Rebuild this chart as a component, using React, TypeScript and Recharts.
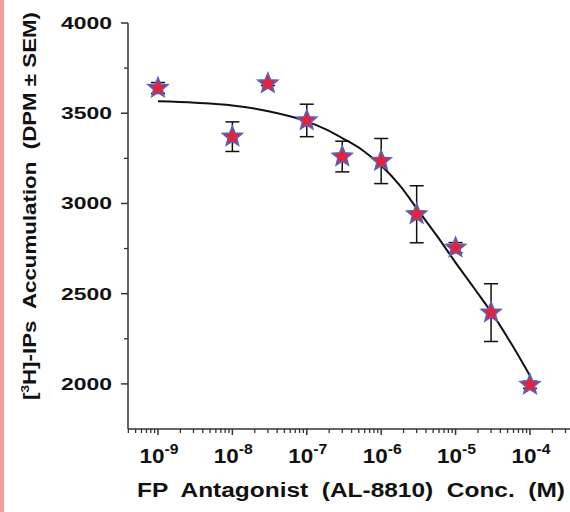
import React from "react";
import { ComposedChart, Scatter, Line, XAxis, YAxis, ErrorBar, Label } from "recharts";

// log10 of antagonist concentration (M)
const concLog = [-9, -8, -7.523, -7, -6.523, -6, -5.523, -5, -4.523, -4];
const accumulation = [3640, 3370, 3665, 3460, 3260, 3235, 2940, 2755, 2395, 1995];
const sem = [30, 82, 12, 90, 85, 125, 158, 28, 160, 20];

// fitted curve
const fitLog = [-9, -8.5, -8, -7.5, -7, -6.75, -6.5, -6.25, -6, -5.75, -5.5, -5.25, -5, -4.75, -4.5, -4.25, -4];
const fitValue = [3566, 3558, 3543, 3510, 3455, 3412, 3357, 3295, 3210, 3100, 2960, 2820, 2672, 2530, 2385, 2222, 2045];

const decades = [-10, -9, -8, -7, -6, -5, -4];
const decadeLabels = ["-10", "-9", "-8", "-7", "-6", "-5", "-4"];
const minorFactors = [2, 3, 4, 5, 6, 7, 8, 9];
const yTicks = [2000, 2250, 2500, 2750, 3000, 3250, 3500, 3750, 4000];

const X_DOMAIN: [number, number] = [-9.403, -3.462];
const FONT = "'Liberation Sans', Arial, sans-serif";

const points = concLog.map((x, i) => ({ x, y: accumulation[i], err: sem[i] }));
const fit = fitLog.map((x, i) => ({ x, y: fitValue[i] }));

const xTicks: number[] = [];
decades.forEach((d) => {
  xTicks.push(d);
  minorFactors.forEach((m) => xTicks.push(d + Math.log10(m)));
});
const xTicksInDomain = xTicks.filter((t) => t >= X_DOMAIN[0] && t <= X_DOMAIN[1]);

const StarDot = (props: any) => {
  const { cx, cy } = props;
  if (cx == null || cy == null) return null;
  const pts: string[] = [];
  for (let i = 0; i < 10; i++) {
    const r = i % 2 === 0 ? 10.5 : 4.6;
    const a = -Math.PI / 2 + (i * Math.PI) / 5;
    pts.push(`${cx + r * Math.cos(a)},${cy + r * Math.sin(a)}`);
  }
  return <polygon points={pts.join(" ")} fill="#e8203c" stroke="#5565b8" strokeWidth={1.5} />;
};

const XTick = (props: any) => {
  const { x, y, payload } = props;
  const v = payload.value;
  const major = Math.abs(v - Math.round(v)) < 1e-6;
  if (!major) {
    return <line x1={x} y1={y} x2={x} y2={y + 4} stroke="#333" strokeWidth={1.3} />;
  }
  const idx = decades.indexOf(Math.round(v));
  return (
    <g>
      <line x1={x} y1={y} x2={x} y2={y + 6} stroke="#333" strokeWidth={1.5} />
      <text
        x={x + 1}
        y={y + 34}
        textAnchor="middle"
        fontFamily={FONT}
        fontWeight="bold"
        fontSize={20}
        fill="#111"
        textLength={39}
        lengthAdjust="spacingAndGlyphs"
      >
        <tspan>10</tspan>
        <tspan dy={-9} fontSize={14}>{decadeLabels[idx]}</tspan>
      </text>
    </g>
  );
};

const YTick = (props: any) => {
  const { x, y, payload } = props;
  const v = payload.value;
  if (v % 500 !== 0) {
    return <line x1={x - 4} y1={y} x2={x} y2={y} stroke="#333" strokeWidth={1.3} />;
  }
  return (
    <g>
      <line x1={x - 7} y1={y} x2={x} y2={y} stroke="#333" strokeWidth={1.5} />
      <text
        x={x - 16}
        y={y + 6}
        textAnchor="end"
        fontFamily={FONT}
        fontWeight="bold"
        fontSize={17}
        fill="#111"
        textLength={51}
        lengthAdjust="spacingAndGlyphs"
      >
        {v}
      </text>
    </g>
  );
};

const XTitle = (props: any) => {
  const { viewBox } = props;
  const cx = viewBox.x + viewBox.width / 2 + 2;
  return (
    <text
      x={cx}
      y={viewBox.y + 68}
      textAnchor="middle"
      fontFamily={FONT}
      fontWeight="bold"
      fontSize={20}
      fill="#111"
      style={{ whiteSpace: "pre" }}
      textLength={428}
      lengthAdjust="spacingAndGlyphs"
    >
      {"FP  Antagonist  (AL-8810)  Conc.  (M)"}
    </text>
  );
};

const YTitle = () => (
  <text
    transform="rotate(-90)"
    x={-206}
    y={36}
    textAnchor="middle"
    fontFamily={FONT}
    fontWeight="bold"
    fontSize={18}
    fill="#111"
    style={{ whiteSpace: "pre" }}
    textLength={388}
    lengthAdjust="spacingAndGlyphs"
  >
    <tspan>[</tspan>
    <tspan dy={-7} fontSize={11}>3</tspan>
    <tspan dy={7}>{"H]-IPs  Accumulation  (DPM ± SEM)"}</tspan>
  </text>
);

export default function App() {
  return (
    <div style={{ position: "absolute", left: 0, top: 0, width: 570, height: 512, background: "#fff", overflow: "hidden" }}>
      <div style={{ position: "absolute", left: 0, top: 0, width: 4, height: 512, background: "#f39c9c" }} />
      <ComposedChart width={570} height={512} margin={{ top: 23, right: 0, bottom: 0, left: 0 }}>
        <XAxis
          dataKey="x"
          type="number"
          scale="linear"
          domain={X_DOMAIN}
          allowDataOverflow
          ticks={xTicksInDomain}
          interval={0}
          tick={<XTick />}
          tickLine={false}
          tickSize={0}
          tickMargin={0}
          height={83}
          axisLine={{ stroke: "#333", strokeWidth: 1.5 }}
        >
          <Label content={<XTitle />} />
        </XAxis>
        <YAxis
          type="number"
          domain={[1750, 4000]}
          allowDataOverflow
          ticks={yTicks}
          interval={0}
          tick={<YTick />}
          tickLine={false}
          tickSize={0}
          tickMargin={0}
          width={128}
          axisLine={{ stroke: "#333", strokeWidth: 1.5 }}
        >
          <Label content={<YTitle />} />
        </YAxis>
        <Line
          data={fit}
          dataKey="y"
          type="monotone"
          stroke="#111"
          strokeWidth={2}
          dot={false}
          activeDot={false}
          isAnimationActive={false}
        />
        <Scatter data={points} dataKey="y" shape={<StarDot />} isAnimationActive={false}>
          <ErrorBar dataKey="err" direction="y" width={7} stroke="#111" strokeWidth={1.5} />
        </Scatter>
      </ComposedChart>
    </div>
  );
}
